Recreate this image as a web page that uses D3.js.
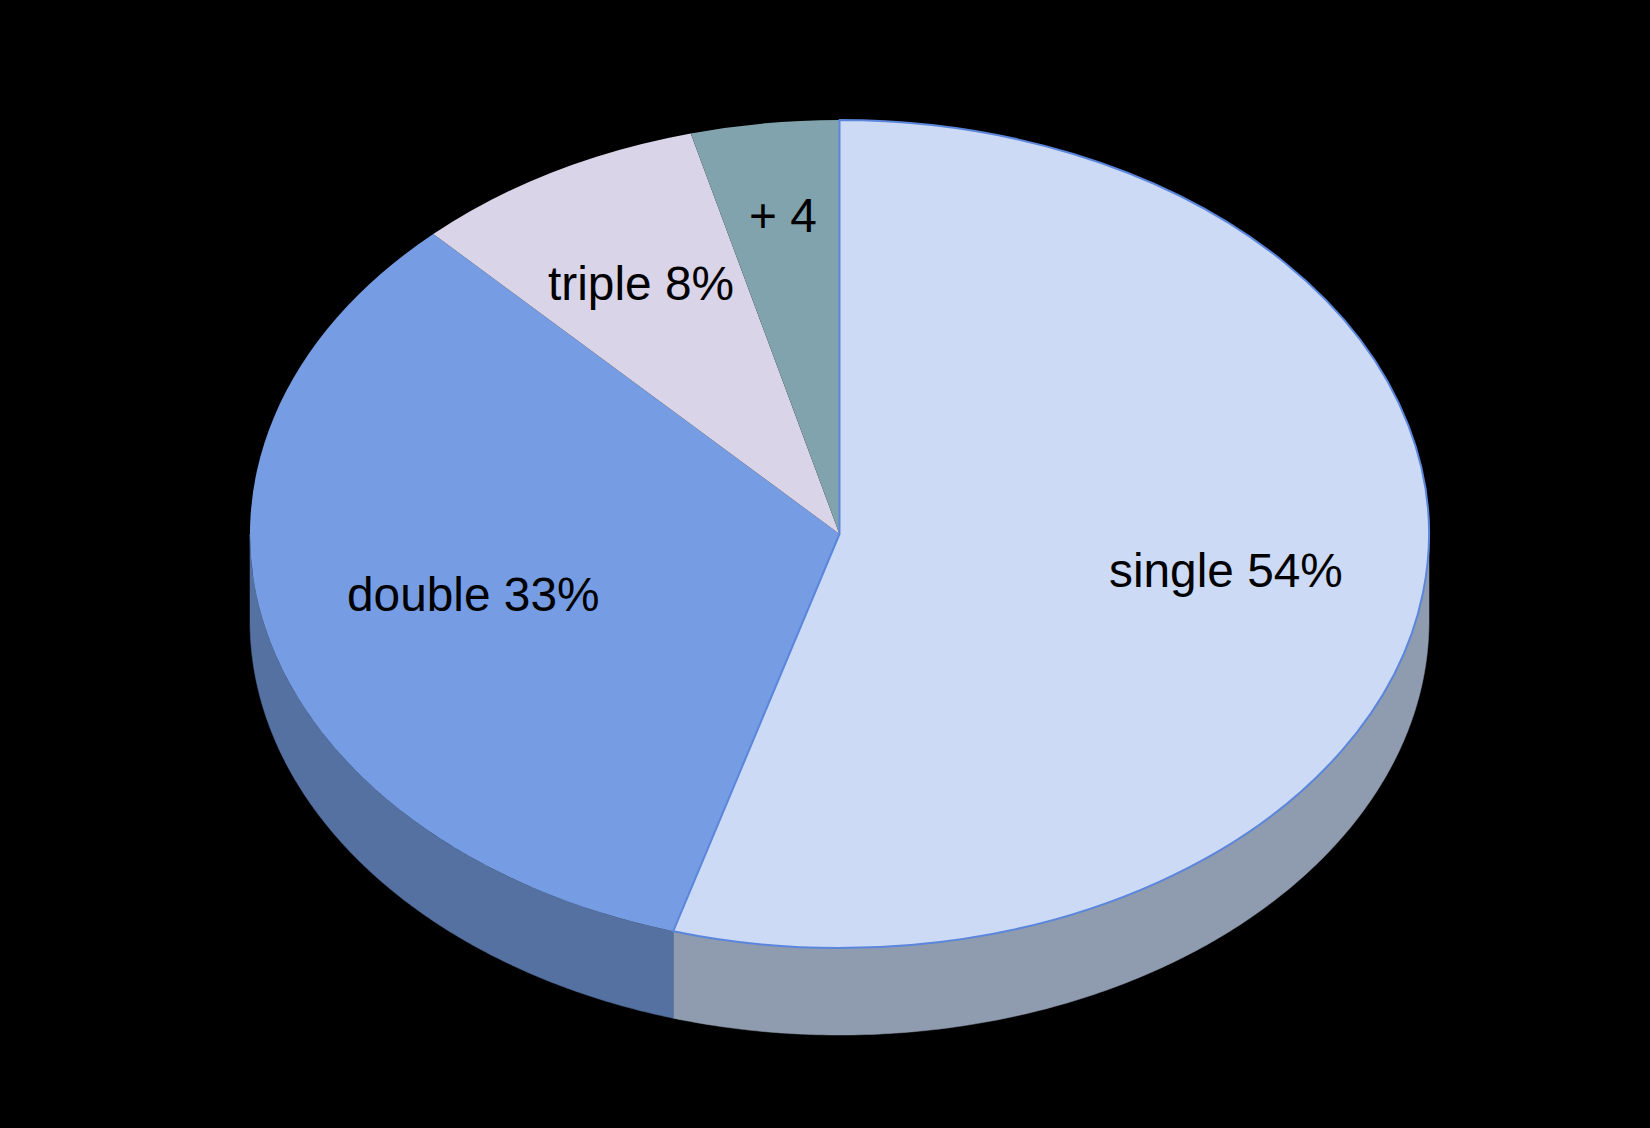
<!DOCTYPE html>
<html>
<head>
<meta charset="utf-8">
<title>Pie</title>
<script src="https://cdn.jsdelivr.net/npm/d3@7/dist/d3.min.js"></script>
<style>
html,body{margin:0;padding:0;background:#000;}
svg{display:block;}
</style>
</head>
<body>
<svg id="chart" width="1650" height="1128"></svg>
<script>
const categories = ["single", "double", "triple", "+ 4"];
const shares = [54.55, 33.35, 8.04, 4.06];
const labels = ["single 54%", "double 33%", "triple 8%", "+ 4"];
const topColors = ["#ccdaf5", "#769de3", "#d9d4e8", "#80a3ad"];
const sideColors = ["#8f9bae", "#5471a1", "#8f8c99", "#55707a"];

const W = 1650, H = 1128, cx = 839.5, cy = 534, rx = 589.5, ry = 414, depth = 87;
const labelAnchors = [[1109, 587], [347, 611], [548, 300], [749, 232]];

const svg = d3.select("#chart");
svg.append("rect").attr("width", W).attr("height", H).attr("fill", "#000");

const pie = d3.pie().sort(null).value(d => d.share).startAngle(0).endAngle(2 * Math.PI);
const rows = categories.map((c, i) => ({ c, share: shares[i], label: labels[i], top: topColors[i], side: sideColors[i], anchor: labelAnchors[i] }));
const arcs = pie(rows);

const px = a => cx + rx * Math.sin(a);
const py = a => cy - ry * Math.cos(a);

// Side wall: only the front-facing part (clock angles pi/2 .. 3pi/2)
const sideGroup = svg.append("g");
arcs.forEach(d => {
  const a0 = Math.max(d.startAngle, Math.PI / 2);
  const a1 = Math.min(d.endAngle, 3 * Math.PI / 2);
  if (a1 <= a0) return;
  const angles = d3.range(0, 181).map(k => a0 + (a1 - a0) * k / 180);
  const pts = angles.map(a => [px(a), py(a)])
    .concat(angles.slice().reverse().map(a => [px(a), py(a) + depth]));
  sideGroup.append("path")
    .attr("d", d3.line()(pts) + "Z")
    .attr("fill", d.data.side)
    .attr("stroke", d.data.side)
    .attr("stroke-width", 0.5);
});

// Top face
const arcGen = d3.arc().innerRadius(0).outerRadius(rx);
const topGroup = svg.append("g").attr("transform", `translate(${cx},${cy}) scale(1,${ry / rx})`);
[1, 2, 3, 0].forEach(i => {
  const d = arcs[i];
  topGroup.append("path")
    .attr("d", arcGen(d))
    .attr("fill", d.data.top)
    .attr("stroke", i === 0 ? "#5b86dc" : "none")
    .attr("stroke-width", i === 0 ? 2 : 0)
    .attr("vector-effect", "non-scaling-stroke")
    .attr("stroke-linejoin", "round");
});

// Labels
svg.append("g").selectAll("text").data(rows).join("text")
  .attr("x", d => d.anchor[0])
  .attr("y", d => d.anchor[1])
  .attr("font-family", "'Liberation Sans', Arial, sans-serif")
  .attr("font-size", 47.8)
  .attr("fill", "#000")
  .text(d => d.label);
</script>
</body>
</html>
